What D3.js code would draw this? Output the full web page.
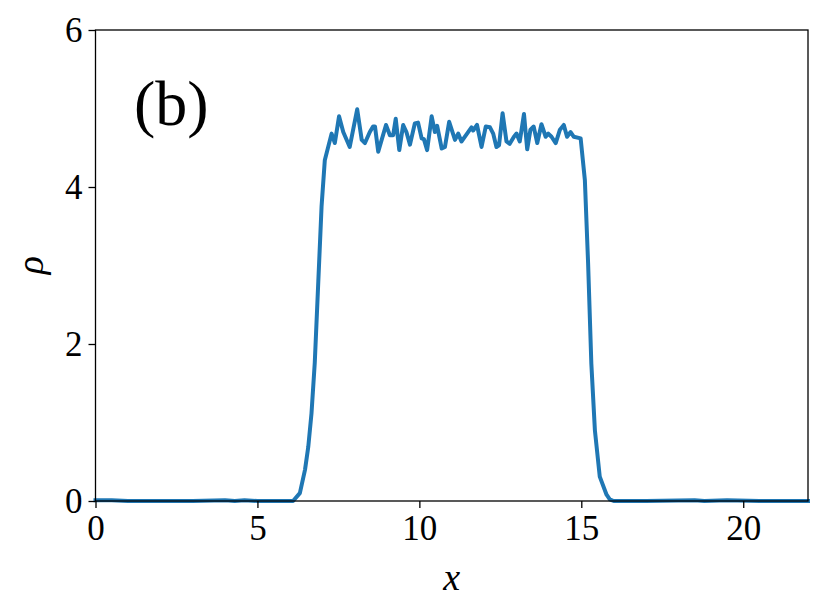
<!DOCTYPE html>
<html>
<head>
<meta charset="utf-8">
<script src="https://cdn.jsdelivr.net/npm/d3@7"></script>
<style>
  body { margin: 0; background: #fff; }
  text { font-family: "Liberation Serif", "DejaVu Serif", serif; }
</style>
</head>
<body>
<div class="js-canvas"></div>
<script>
'use strict';

const xs = [
    0, 0.5, 1.0, 2.0, 3.0, 4.0, 4.3, 4.6, 5.0, 6.1, 6.31, 6.47, 6.57, 6.67, 6.77, 6.88, 6.98, 7.08,
    7.29, 7.39, 7.52, 7.65, 7.85, 8.08, 8.22, 8.32, 8.47, 8.57, 8.63, 8.73, 8.97, 9.09, 9.19,
    9.27, 9.38, 9.50, 9.60, 9.71, 9.86, 9.96, 10.07, 10.14, 10.24, 10.38, 10.48, 10.55, 10.69,
    10.79, 10.92, 11.10, 11.20, 11.30, 11.44, 11.61, 11.66, 11.78, 11.92, 12.05, 12.18, 12.28,
    12.38, 12.46, 12.57, 12.69, 12.79, 12.92, 13.00, 13.10, 13.23, 13.33, 13.43, 13.53, 13.64,
    13.77, 13.90, 13.98, 14.08, 14.21, 14.34, 14.46, 14.56, 14.67, 14.77, 14.98, 15.11, 15.21,
    15.31, 15.42, 15.57, 15.78, 15.88, 16.0, 17.0, 18.5, 18.8, 19.5, 20.5, 22.0
];
const rho = [
    0.01, 0.01, 0, 0, 0, 0.01, 0, 0.01, 0, 0, 0.1, 0.4, 0.69, 1.12, 1.76, 2.8, 3.75, 4.34,
    4.68, 4.56, 4.90, 4.70, 4.51, 4.99, 4.60, 4.56, 4.70, 4.77, 4.77, 4.45, 4.79, 4.66, 4.66,
    4.87, 4.47, 4.79, 4.70, 4.54, 4.81, 4.82, 4.62, 4.61, 4.47, 4.90, 4.70, 4.78, 4.49,
    4.51, 4.83, 4.60, 4.68, 4.58, 4.66, 4.76, 4.72, 4.79, 4.51, 4.77, 4.76, 4.68,
    4.51, 4.53, 4.94, 4.58, 4.55, 4.64, 4.68, 4.58, 4.93, 4.48, 4.73, 4.77, 4.56,
    4.80, 4.64, 4.68, 4.64, 4.56, 4.73, 4.79, 4.64, 4.70, 4.64, 4.62, 4.09, 3.03,
    1.75, 0.90, 0.31, 0.08, 0.02, 0, 0, 0.01, 0, 0.01, 0, 0
];

const xTicks = [0, 5, 10, 15, 20];
const yTicks = [0, 2, 4, 6];

const config = {
    width: 830,
    height: 615,
    margin: { top: 30, right: 22, bottom: 114, left: 95.5 }
};

const graphWidth = 808 - config.margin.left;
const graphHeight = 501 - config.margin.top;

const svg = d3.select('.js-canvas')
    .append('svg')
    .attr('width', config.width)
    .attr('height', config.height);

const graph = svg.append('g')
    .attr('transform', `translate(${config.margin.left}, ${config.margin.top})`);

const x = d3.scaleLinear().domain([0, 22]).range([0, graphWidth]);
const y = d3.scaleLinear().domain([0, 6]).range([graphHeight, 0]);

// density curve
const line = d3.line()
    .x((d, i) => x(xs[i]))
    .y(d => y(d));

graph.append('path')
    .datum(rho)
    .attr('fill', 'none')
    .attr('stroke', '#1f77b4')
    .attr('stroke-width', 4)
    .attr('stroke-linejoin', 'round')
    .attr('stroke-linecap', 'square')
    .attr('d', line);

// axes
const xAxis = d3.axisBottom(x).tickValues(xTicks).tickSize(7).tickPadding(6).tickFormat(d3.format('d'));
const yAxis = d3.axisLeft(y).tickValues(yTicks).tickSize(7).tickPadding(6).tickFormat(d3.format('d'));

const xAxisGroup = graph.append('g')
    .attr('transform', `translate(0, ${graphHeight})`)
    .call(xAxis);
const yAxisGroup = graph.append('g').call(yAxis);

[xAxisGroup, yAxisGroup].forEach(g => {
    g.select('.domain').remove();
    g.selectAll('line').attr('stroke', '#000').attr('stroke-width', 1.3);
    g.selectAll('text').attr('font-size', 35).attr('fill', '#000')
        .style('font-family', '"Liberation Serif", "DejaVu Serif", serif');
});
xAxisGroup.selectAll('text').attr('dy', '0.75em');
yAxisGroup.selectAll('text').attr('dy', '0.34em');

// frame
graph.append('rect')
    .attr('width', graphWidth)
    .attr('height', graphHeight)
    .attr('fill', 'none')
    .attr('stroke', '#000')
    .attr('stroke-width', 1.3);

// labels
svg.append('text')
    .attr('x', config.margin.left + graphWidth / 2)
    .attr('y', 590)
    .attr('text-anchor', 'middle')
    .attr('font-size', 38)
    .attr('font-style', 'italic')
    .text('x');

svg.append('text')
    .attr('transform', 'translate(43, 265) rotate(-90)')
    .attr('text-anchor', 'middle')
    .attr('font-size', 38)
    .attr('font-style', 'italic')
    .text('ρ');

svg.append('text')
    .attr('x', 134)
    .attr('y', 125)
    .attr('font-size', 64)
    .text('(b)');
</script>
</body>
</html>
